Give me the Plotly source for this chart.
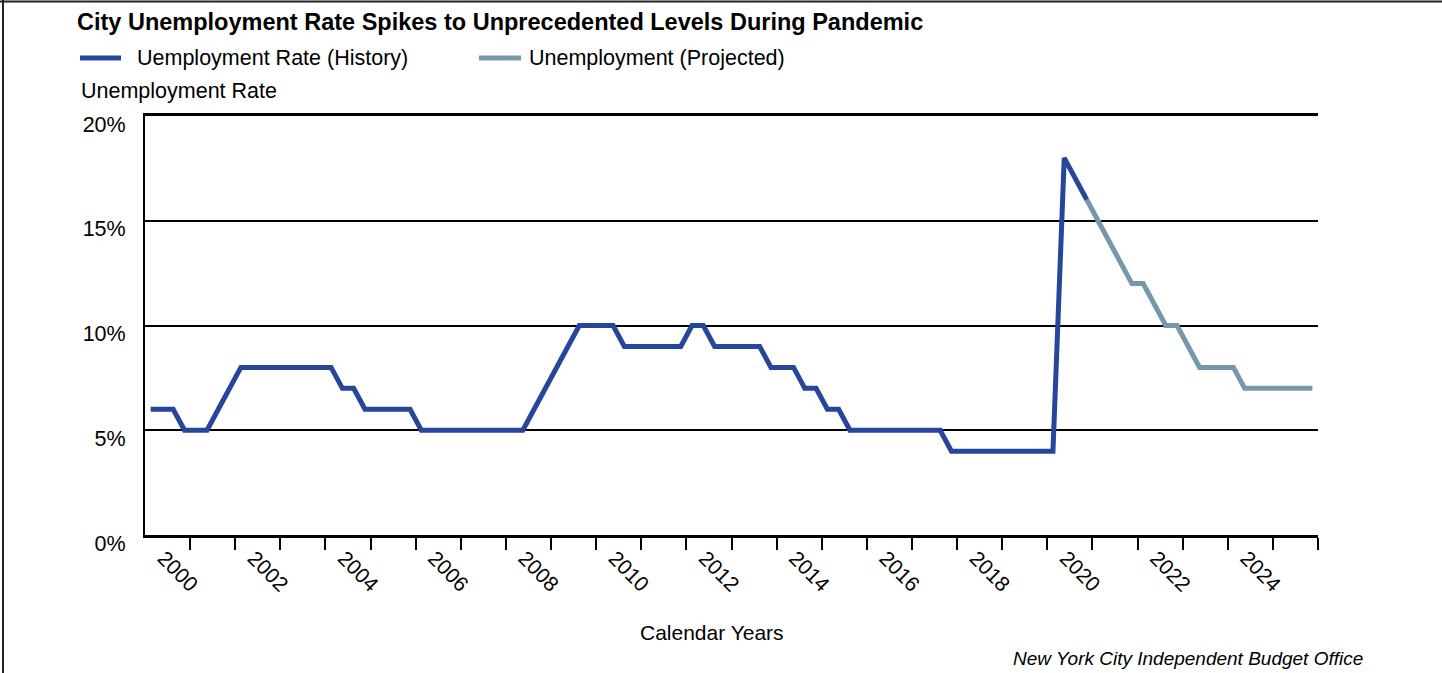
import plotly.graph_objects as go

# ---------------- data ----------------
years = list(range(2000, 2026))
quarters = [1, 2, 3, 4]

# quarterly unemployment rate (%), 2000Q1 .. 2020Q4
history_values = [
    6, 6, 6, 5,      # 2000
    5, 5, 6, 7,      # 2001
    8, 8, 8, 8,      # 2002
    8, 8, 8, 8,      # 2003
    8, 7, 7, 6,      # 2004
    6, 6, 6, 6,      # 2005
    5, 5, 5, 5,      # 2006
    5, 5, 5, 5,      # 2007
    5, 5, 6, 7,      # 2008
    8, 9, 10, 10,    # 2009
    10, 10, 9, 9,    # 2010
    9, 9, 9, 9,      # 2011
    10, 10, 9, 9,    # 2012
    9, 9, 9, 8,      # 2013
    8, 8, 7, 7,      # 2014
    6, 6, 5, 5,      # 2015
    5, 5, 5, 5,      # 2016
    5, 5, 5, 4,      # 2017
    4, 4, 4, 4,      # 2018
    4, 4, 4, 4,      # 2019
    4, 18, 17, 16,   # 2020
]
# projected, 2020Q4 .. 2025Q4
projected_values = [
    16,                  # 2020Q4
    15, 14, 13, 12,      # 2021
    12, 11, 10, 10,      # 2022
    9, 8, 8, 8,          # 2023
    8, 7, 7, 7,          # 2024
    7, 7, 7, 7,          # 2025
]

label_years = list(range(2000, 2026, 2))

# quarter positions on a continuous year axis (centre of each quarter)
period_x = [y + (q - 0.5) / 4 for y in years for q in quarters]
hist_x = period_x[:len(history_values)]
proj_x = period_x[len(history_values) - 1:len(history_values) - 1 + len(projected_values)]

HIST_COLOR = "#26459b"
PROJ_COLOR = "#7698aa"
FONT = "Liberation Sans"

fig = go.Figure()
fig.add_trace(go.Scatter(x=proj_x, y=projected_values, mode="lines",
                         line=dict(color=PROJ_COLOR, width=5),
                         name="Unemployment (Projected)", showlegend=False))
fig.add_trace(go.Scatter(x=hist_x, y=history_values, mode="lines",
                         line=dict(color=HIST_COLOR, width=5),
                         name="Uemployment Rate (History)", showlegend=False))

L, R, T, B = 145, 1318, 116, 535
W, H = 1442, 673
pw, ph = R - L, B - T


def px(x):
    return (x - L) / pw


def py(y):
    return (B - y) / ph


fig.update_layout(
    width=W, height=H,
    margin=dict(l=L, r=W - R, t=T, b=H - B, pad=0),
    paper_bgcolor="white", plot_bgcolor="white",
    font=dict(family=FONT, size=21, color="black"),
    showlegend=False,
)

fig.update_xaxes(
    range=[2000, 2026],
    tickmode="array",
    tickvals=[y + 0.5 for y in label_years],
    ticktext=[str(y) for y in label_years],
    ticks="", tickangle=45, ticklabelshift=-4,
    tickfont=dict(size=21, family=FONT),
    showgrid=False, zeroline=False,
    showline=True, linecolor="black", linewidth=2.5, mirror=True,
    minor=dict(tickmode="array", tickvals=list(range(2001, 2027)),
               ticks="outside", ticklen=12, tickwidth=2, tickcolor="black",
               showgrid=False),
)
fig.update_yaxes(
    range=[0, 20],
    tickmode="array",
    tickvals=[0, 5, 10, 15, 20],
    ticktext=["0%", "5%", "10%", "15%", "20%"],
    ticks="", ticklabelstandoff=13, ticklabelshift=8,
    tickfont=dict(size=21.5, family=FONT),
    showgrid=True, gridcolor="black", gridwidth=2,
    zeroline=False,
    showline=True, linecolor="black", linewidth=2,
)

ann = []
ann.append(dict(text="<b>City Unemployment Rate Spikes to Unprecedented Levels During Pandemic</b>",
                x=px(75), y=py(22), xref="paper", yref="paper", xanchor="left", yanchor="middle",
                showarrow=False, font=dict(size=23.5, family=FONT, color="black")))
ann.append(dict(text="Uemployment Rate (History)", x=px(135), y=py(58), xref="paper", yref="paper",
                xanchor="left", yanchor="middle", showarrow=False, font=dict(size=21.5)))
ann.append(dict(text="Unemployment (Projected)", x=px(527), y=py(58), xref="paper", yref="paper",
                xanchor="left", yanchor="middle", showarrow=False, font=dict(size=21.5)))
ann.append(dict(text="Unemployment Rate", x=px(79), y=py(91), xref="paper", yref="paper",
                xanchor="left", yanchor="middle", showarrow=False, font=dict(size=21.5)))
ann.append(dict(text="Calendar Years", x=px(712), y=py(632), xref="paper", yref="paper",
                xanchor="center", yanchor="middle", showarrow=False, font=dict(size=21)))
ann.append(dict(text="<i>New York City Independent Budget Office</i>", x=px(1365), y=py(658),
                xref="paper", yref="paper", xanchor="right", yanchor="middle", showarrow=False,
                font=dict(size=19)))
fig.update_layout(annotations=ann)

shapes = [
    dict(type="line", xref="paper", yref="paper", x0=px(80), x1=px(121), y0=py(58), y1=py(58),
         line=dict(color=HIST_COLOR, width=5)),
    dict(type="line", xref="paper", yref="paper", x0=px(479), x1=px(521), y0=py(58), y1=py(58),
         line=dict(color=PROJ_COLOR, width=5)),
    dict(type="line", xref="paper", yref="paper", x0=px(0), x1=px(W), y0=py(1.5), y1=py(1.5),
         line=dict(color="#222222", width=2)),
    dict(type="line", xref="paper", yref="paper", x0=px(3), x1=px(3), y0=py(0), y1=py(H),
         line=dict(color="#222222", width=2)),
]
fig.update_layout(shapes=shapes)

fig.write_html(
    "out.html",
    config={"displayModeBar": False},
    post_script="document.body.style.margin='0';document.body.style.overflow='hidden';",
)
